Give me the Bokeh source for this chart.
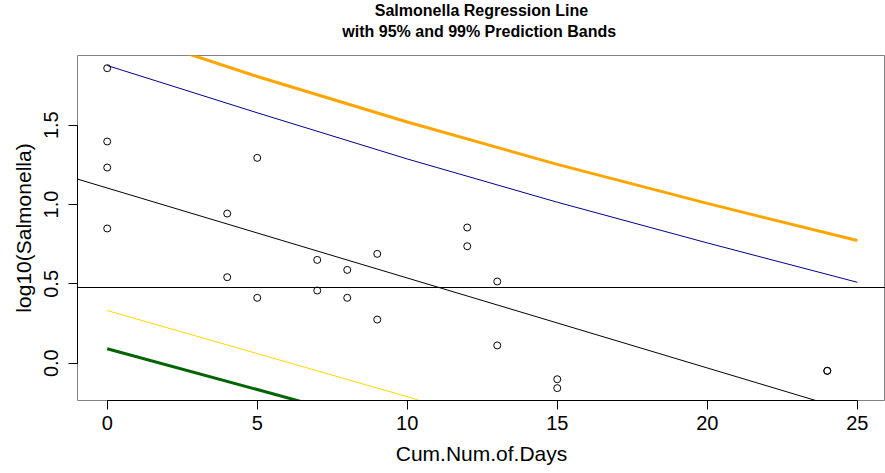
from bokeh.plotting import figure
from bokeh.models import Range1d, Slope, Span, Title, FixedTicker, CustomJSTickFormatter
from bokeh.embed import file_html
from bokeh.resources import INLINE

# observations
days = [0, 0, 0, 0, 4, 4, 5, 5, 7, 7, 8, 8, 9, 9, 12, 12, 13, 13, 15, 15, 24, 24]
log_salm = [1.859, 1.397, 1.233, 0.849, 0.943, 0.542, 1.294, 0.412, 0.651, 0.458,
            0.588, 0.412, 0.689, 0.275, 0.855, 0.737, 0.515, 0.112, -0.101, -0.157,
            -0.048, -0.048]

# regression line and reference line
reg_intercept = 1.104
reg_slope = -0.0567
ref_level = 0.477

# prediction bands
band_x = [0, 5, 10, 15, 20, 25]
upper95 = [1.876, 1.578, 1.287, 1.0145, 0.758, 0.510]
lower95 = [0.332, 0.0605, -0.211, -0.507, -0.818, -1.137]
upper99 = [2.117, 1.807, 1.520, 1.253, 1.007, 0.773]
lower99 = [0.091, -0.166, -0.425, -0.746, -1.067, -1.40]

x_ticks = [0, 5, 10, 15, 20, 25]
y_ticks = [0.0, 0.5, 1.0, 1.5]

FONT = "Liberation Sans"

p = figure(width=885, height=473, output_backend="svg", toolbar_location=None,
           x_range=Range1d(-0.99, 25.94), y_range=Range1d(-0.235, 1.939),
           min_border_left=77, min_border_right=0, min_border_top=55,
           min_border_bottom=73)
p.background_fill_color = "white"
p.border_fill_color = "white"
p.outline_line_color = "#808080"
p.outline_line_width = 1
p.grid.visible = False

t1 = Title(text="with 95% and  99% Prediction Bands", align="center",
           text_font=FONT, text_font_size="16px", text_font_style="bold",
           text_color="black", standoff=27, offset=0, vertical_align="top")
t0 = Title(text="Salmonella Regression Line", align="center",
           text_font=FONT, text_font_size="16px", text_font_style="bold",
           text_color="black", standoff=-19, offset=0)
p.add_layout(t1, "above")
p.add_layout(t0, "above")

for ax in (p.xaxis[0], p.yaxis[0]):
    ax.axis_line_color = "black"
    ax.major_tick_line_color = "black"
    ax.major_tick_out = 9
    ax.major_tick_in = 0
    ax.minor_tick_line_color = None
    ax.major_label_text_font = FONT
    ax.major_label_text_font_size = "20px"
    ax.major_label_text_color = "black"
    ax.axis_label_text_font = FONT
    ax.axis_label_text_font_size = "21px"
    ax.axis_label_text_font_style = "normal"
    ax.axis_label_text_color = "black"

p.xaxis.ticker = FixedTicker(ticks=x_ticks)
p.yaxis.ticker = FixedTicker(ticks=y_ticks)
p.xaxis.bounds = (x_ticks[0], x_ticks[-1])
p.yaxis.bounds = (y_ticks[0], y_ticks[-1])
p.yaxis.formatter = CustomJSTickFormatter(code="return tick.toFixed(1);")
p.yaxis.major_label_orientation = "vertical"
p.xaxis.axis_label = "Cum.Num.of.Days"
p.yaxis.axis_label = "log10(Salmonella)"
p.xaxis.major_label_standoff = 6
p.xaxis.axis_label_standoff = 9
p.yaxis.major_label_standoff = 10
p.yaxis.axis_label_standoff = 7

p.add_layout(Span(location=ref_level, dimension="width", line_color="black", line_width=1))
p.add_layout(Slope(gradient=reg_slope, y_intercept=reg_intercept, line_color="black", line_width=1))

p.line(band_x, upper95, line_color="#00008B", line_width=1)
p.line(band_x, lower95, line_color="#FFD700", line_width=1)
p.line(band_x, upper99, line_color="#FFA500", line_width=3)
p.line(band_x, lower99, line_color="#006400", line_width=3)

p.scatter(days, log_salm, marker="circle", size=7, fill_color=None,
          line_color="black", line_width=1)

open("out.html", "w").write(file_html(p, INLINE))
